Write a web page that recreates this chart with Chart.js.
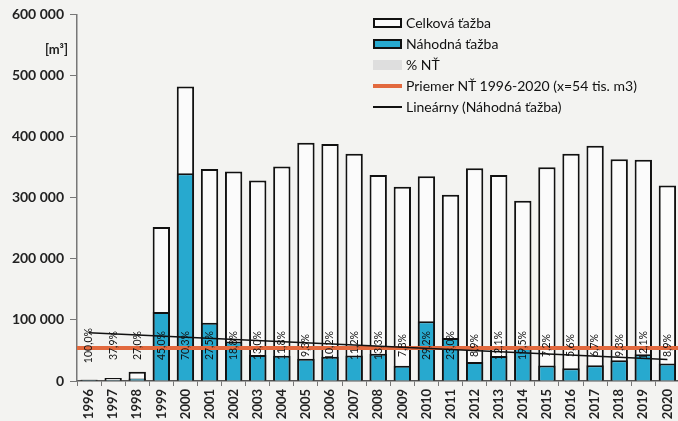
<!DOCTYPE html>
<html>
<head>
<meta charset="utf-8">
<script src="https://cdn.jsdelivr.net/npm/chart.js@4.4.0/dist/chart.umd.min.js"></script>
<style>
  html, body { margin: 0; padding: 0; background: #f3f3f1; overflow: hidden; }
  #wrap { position: relative; width: 686px; height: 421px; }
  #legend { position: absolute; left: 373px; top: 12px; font-family: Lato, sans-serif; font-size: 14px; color: #111; }
  .row { display: flex; align-items: center; height: 21px; }
  .sw { width: 29px; height: 10px; margin-right: 4px; box-sizing: border-box; }
  .txt { white-space: nowrap; }
</style>
</head>
<body>
<div id="wrap">
  <canvas id="c"></canvas>
  <div id="legend">
    <div class="row"><div class="sw" style="border:2px solid #111;background:#fbfbfb"></div><span class="txt">Celková ťažba</span></div>
    <div class="row"><div class="sw" style="border:2px solid #111;background:#27a9cf"></div><span class="txt">Náhodná ťažba</span></div>
    <div class="row"><div class="sw" style="background:#dedede"></div><span class="txt">% NŤ</span></div>
    <div class="row"><div class="sw" style="height:4px;background:#e2693e"></div><span class="txt">Priemer NŤ 1996-2020 (x=54 tis. m3)</span></div>
    <div class="row"><div class="sw" style="height:2px;background:#111"></div><span class="txt">Lineárny (Náhodná ťažba)</span></div>
  </div>
</div>
<script>
const years = ['1996','1997','1998','1999','2000','2001','2002','2003','2004','2005','2006','2007','2008','2009','2010','2011','2012','2013','2014','2015','2016','2017','2018','2019','2020'];
const totalHarvest = [2000, 5000, 15000, 252000, 482000, 347000, 343000, 328000, 351000, 390000, 388000, 372000, 337000, 318000, 335000, 305000, 348000, 337000, 295000, 350000, 372000, 385000, 363000, 362000, 320000];
const randomHarvest = [2000, 1900, 4000, 113000, 340000, 95500, 64500, 42600, 41400, 36300, 39600, 41700, 44800, 24800, 97800, 70200, 31000, 40800, 57500, 25200, 21000, 25800, 33800, 43800, 28500];
const pctLabels = ['100,0%','37,9%','27,0%','45,0%','70,3%','27,5%','18,8%','13,0%','11,8%','9,3%','10,2%','11,2%','13,3%','7,8%','29,2%','23,0%','8,9%','12,1%','19,5%','7,2%','5,6%','6,7%','9,3%','12,1%','8,9%'];
const averageLine = [54000, 54000, 54000, 54000, 54000, 54000, 54000, 54000, 54000, 54000, 54000, 54000, 54000, 54000, 54000, 54000, 54000, 54000, 54000, 54000, 54000, 54000, 54000, 54000, 54000];
const trendLine = [79000, null, null, null, null, null, null, null, null, null, null, null, null, null, null, null, null, null, null, null, null, null, null, null, 35000];
const yTicks = [0, 100000, 200000, 300000, 400000, 500000, 600000];
const labelCenterValue = 58000;

const fmt = v => String(v).replace(/\B(?=(\d{3})+(?!\d))/g, ' ');

const labelPlugin = {
  id: 'pctLabels',
  afterDatasetsDraw(chart) {
    const ctx = chart.ctx;
    const meta = chart.getDatasetMeta(1);
    const cy = chart.scales.y.getPixelForValue(labelCenterValue);
    ctx.save();
    ctx.font = '10.5px Lato, sans-serif';
    ctx.fillStyle = '#111';
    ctx.textBaseline = 'middle';
    ctx.textAlign = 'center';
    meta.data.forEach((bar, i) => {
      ctx.save();
      ctx.translate(bar.x, cy);
      ctx.rotate(-Math.PI / 2);
      ctx.fillText(pctLabels[i], 0, 0);
      ctx.restore();
    });
    ctx.font = 'bold 13px Lato, sans-serif';
    ctx.textAlign = 'right';
    ctx.fillStyle = '#222';
    ctx.fillText('[m\u00B3]', 68, 50);
    ctx.restore();
  }
};

new Chart(document.getElementById('c'), {
  data: {
    labels: years,
    datasets: [
      {
        type: 'bar', label: 'Celková ťažba', data: totalHarvest,
        backgroundColor: '#fbfbfb', borderColor: '#111', borderWidth: 2,
        grouped: false, barPercentage: 0.72, categoryPercentage: 1, order: 4
      },
      {
        type: 'bar', label: 'Náhodná ťažba', data: randomHarvest,
        backgroundColor: '#27a9cf', borderColor: '#111', borderWidth: 2,
        grouped: false, barPercentage: 0.72, categoryPercentage: 1, order: 3
      },
      {
        type: 'line', label: 'Priemer NŤ 1996-2020 (x=54 tis. m3)', data: averageLine,
        xAxisID: 'xLine', borderColor: '#e2693e', borderWidth: 4, pointRadius: 0, order: 2
      },
      {
        type: 'line', label: 'Lineárny (Náhodná ťažba)', data: trendLine,
        borderColor: '#111', borderWidth: 1.5, pointRadius: 0, spanGaps: true, order: 1
      }
    ]
  },
  options: {
    responsive: true, maintainAspectRatio: false, animation: false,
    layout: { padding: { top: 12, right: 0, left: 0, bottom: 0 } },
    plugins: { legend: { display: false }, tooltip: { enabled: false } },
    scales: {
      x: {
        offset: true,
        grid: { display: true, drawOnChartArea: false, tickLength: 5, color: '#777', offset: true },
        border: { color: '#555', width: 1.5 },
        ticks: { maxRotation: 90, minRotation: 90, padding: 3, color: '#222', font: { family: 'Lato', size: 13, weight: 'bold' } },
        afterFit(s) { s.height = 40; }
      },
      xLine: {
        type: 'category', labels: years, offset: false, display: false
      },
      y: {
        min: 0, max: 600000,
        afterBuildTicks(s) { s.ticks = yTicks.map(v => ({ value: v })); },
        grid: { display: true, drawOnChartArea: false, tickLength: 7, color: '#777' },
        border: { color: '#777', width: 1.5 },
        ticks: { padding: 6, color: '#222', font: { family: 'Lato', size: 14, weight: 'bold' }, callback: v => fmt(v) },
        afterFit(s) { s.width = 77; }
      }
    }
  },
  plugins: [labelPlugin]
});
</script>
</body>
</html>
